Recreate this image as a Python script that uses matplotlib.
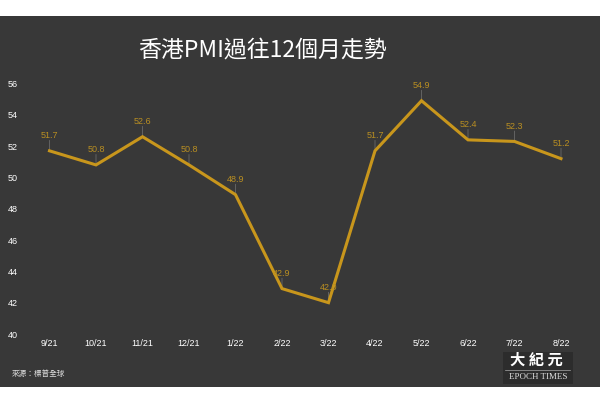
import matplotlib
matplotlib.use("Agg")
import matplotlib.pyplot as plt
from matplotlib.patches import Rectangle

months = ["9/21", "10/21", "11/21", "12/21", "1/22", "2/22", "3/22",
          "4/22", "5/22", "6/22", "7/22", "8/22"]
pmi = [51.7, 50.8, 52.6, 50.8, 48.9, 42.9, 42.0, 51.7, 54.9, 52.4, 52.3, 51.2]
yticks = [40, 42, 44, 46, 48, 50, 52, 54, 56]
title = "香港PMI過往12個月走勢"
source = "來源：標普全球"

BG = "#383838"
GOLD = "#C8961C"
LABEL_GOLD = "#B88E22"
FONT = ["Liberation Sans", "Noto Sans CJK TC", "DejaVu Sans"]
plt.rcParams["font.family"] = FONT

W, H = 600, 401
fig = plt.figure(figsize=(W / 100, H / 100), dpi=100)
fig.patch.set_facecolor("white")

# dark panel
fig.patches.append(Rectangle((0, (H - 387) / H), 1, (387 - 16) / H,
                             transform=fig.transFigure, facecolor=BG,
                             edgecolor="none", zorder=-2))

left = 26.25 / W
right = 584.25 / W
bottom = (H - 334) / H
top = (H - 83.5) / H
ax = fig.add_axes([left, bottom, right - left, top - bottom])
ax.set_zorder(2)
ax.set_facecolor("none")
x = list(range(len(months)))
ax.plot(x, pmi, color=GOLD, lw=2.2, solid_joinstyle="miter", zorder=3)
ax.set_xlim(-0.5, len(months) - 0.5)
ax.set_ylim(40, 56)
ax.set_yticks(yticks)
ax.set_yticklabels([str(v) for v in yticks])
ax.set_xticks(x)
ax.set_xticklabels(months)
for s in ax.spines.values():
    s.set_visible(False)
ax.tick_params(axis="both", length=0, colors="white", labelsize=6.5)
ax.tick_params(axis="y", pad=6)
ax.tick_params(axis="x", pad=3.5)

for xi, v in zip(x, pmi):
    ax.annotate(f"{v:.1f}", xy=(xi, v), xytext=(0, 7.5), textcoords="offset points",
                ha="center", va="bottom", fontsize=6.5, color=LABEL_GOLD, zorder=4)
    ax.annotate("", xy=(xi, v), xytext=(0, 7.5), textcoords="offset points",
                arrowprops=dict(arrowstyle="-", color="#6a6a6a", lw=0.6,
                                shrinkA=0, shrinkB=1), zorder=2)

fig.text(262 / W, 1 - 50 / H, title, ha="center", va="center",
         fontsize=16.5, color="white", weight="medium",
         family=["Noto Sans CJK TC", "Liberation Sans"])
fig.text(12 / W, 1 - 374 / H, source, ha="left", va="center",
         fontsize=5.5, color="#dddddd", family=["Noto Sans CJK TC", "DejaVu Sans"])

# logo
fig.patches.append(Rectangle((503 / W, (H - 384) / H), 70 / W, 32 / H,
                             transform=fig.transFigure, facecolor="#2c2c2c",
                             edgecolor="none", zorder=-1))
fig.text(536 / W, 1 - 360 / H, "大 紀 元", ha="center", va="center",
         fontsize=11, color="white", weight="bold",
         family=["Noto Sans CJK TC"], zorder=2)
fig.add_artist(plt.Line2D([505 / W, 570 / W], [1 - 369.5 / H, 1 - 369.5 / H],
                          transform=fig.transFigure, color="#aaaaaa", lw=0.5))
fig.text(538 / W, 1 - 377 / H, "EPOCH TIMES", ha="center", va="center",
         fontsize=6.5, color="#dddddd", family=["Liberation Serif"], zorder=2)

fig.savefig("out.png", dpi=100, facecolor="white")
